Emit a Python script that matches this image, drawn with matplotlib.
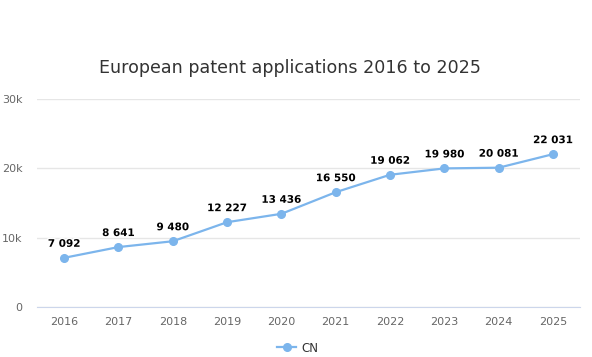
import numpy as np
import matplotlib
matplotlib.use('Agg')
import matplotlib.pyplot as plt
import matplotlib.patheffects as pe

years = ['2016', '2017', '2018', '2019', '2020', '2021', '2022', '2023', '2024', '2025']
cn_apps = [7092, 8641, 9480, 12227, 13436, 16550, 19062, 19980, 20081, 22031]
y_ticks = [0, 10000, 20000, 30000]
y_tick_labels = ['0', '10k', '20k', '30k']

LINE_COL = '#7cb5ec'

fig = plt.figure(figsize=(5.92, 3.57), dpi=100)
ax = fig.add_axes([0.0625, 0.14, 0.9175, 0.583])

x = np.arange(len(years))
ax.plot(x, cn_apps, color=LINE_COL, lw=1.6, marker='o', ms=5.5, zorder=3)

for xi, v in zip(x, cn_apps):
    lbl = f'{v:,}'.replace(',', ' ')
    ax.annotate(lbl, (xi, v), xytext=(0, 6.5), textcoords='offset points',
                ha='center', va='bottom', fontsize=7.5, fontweight='bold',
                color='#000000',
                path_effects=[pe.withStroke(linewidth=2, foreground='white')], zorder=4)

ax.set_xlim(-0.5, len(years) - 0.5)
ax.set_ylim(0, 30000)
ax.set_xticks(x)
ax.set_xticklabels(years, fontsize=8, color='#666666')
ax.set_yticks(y_ticks)
ax.set_yticklabels(y_tick_labels, fontsize=8, color='#666666')
ax.tick_params(axis='y', length=0, pad=10.5)
ax.tick_params(axis='x', length=0, pad=7)

ax.grid(axis='y', color='#e6e6e6', lw=1)
ax.set_axisbelow(True)
for s in ['top', 'right', 'left']:
    ax.spines[s].set_visible(False)
ax.spines['bottom'].set_color('#ccd6eb')

fig.text(0.49, 0.81, 'European patent applications 2016 to 2025', ha='center',
         va='center', fontsize=12.6, color='#333333')

# legend sits right at the bottom edge, as in the source
ax.plot([], [], color=LINE_COL, lw=1.6, marker='o', ms=5.5, label='CN')
leg = ax.legend(loc='upper center', bbox_to_anchor=(0.48, -0.115), frameon=False,
                fontsize=8.5, handlelength=1.6, handletextpad=0.4)
for t in leg.get_texts():
    t.set_color('#333333')

fig.savefig('out.png', dpi=100)
